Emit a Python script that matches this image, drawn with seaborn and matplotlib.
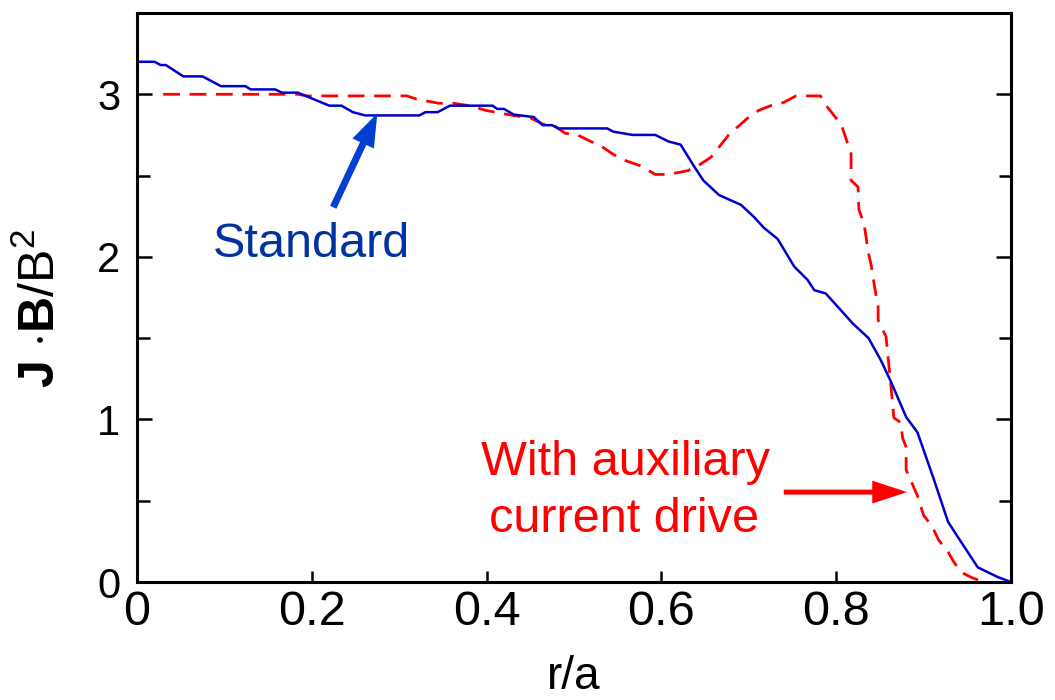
import matplotlib
matplotlib.use("Agg")
import matplotlib.pyplot as plt
from matplotlib.patches import ArrowStyle
from matplotlib.ticker import MultipleLocator, FixedLocator
import pandas as pd
import seaborn as sns

# ---- data ----
r_standard = [0.000, 0.020, 0.027, 0.033, 0.053, 0.075, 0.096, 0.124, 0.130, 0.158,
              0.166, 0.184, 0.220, 0.234, 0.247, 0.261, 0.323, 0.330, 0.344, 0.358,
              0.407, 0.412, 0.420, 0.431, 0.454, 0.464, 0.475, 0.482, 0.538, 0.545,
              0.567, 0.593, 0.608, 0.622, 0.637, 0.648, 0.666, 0.691, 0.706, 0.717,
              0.733, 0.752, 0.767, 0.775, 0.788, 0.809, 0.819, 0.837, 0.851, 0.862,
              0.880, 0.893, 0.912, 0.928, 0.940, 0.962, 0.985, 1.000]
j_standard = [3.20, 3.20, 3.18, 3.18, 3.11, 3.11, 3.05, 3.05, 3.03, 3.03,
              3.01, 3.01, 2.93, 2.93, 2.89, 2.87, 2.87, 2.89, 2.89, 2.93,
              2.93, 2.91, 2.91, 2.875, 2.86, 2.81, 2.81, 2.79, 2.79, 2.77,
              2.75, 2.75, 2.71, 2.69, 2.56, 2.47, 2.38, 2.32, 2.245, 2.18,
              2.11, 1.94, 1.86, 1.795, 1.775, 1.65, 1.59, 1.50, 1.365, 1.24,
              1.015, 0.92, 0.627, 0.37, 0.27, 0.09, 0.03, 0.00]

r_aux = [0.030, 0.184, 0.195, 0.309, 0.320, 0.345, 0.362, 0.380, 0.400, 0.430,
         0.450, 0.465, 0.475, 0.490, 0.504, 0.519, 0.530, 0.545, 0.560, 0.576,
         0.593, 0.608, 0.630, 0.641, 0.657, 0.677, 0.700, 0.711, 0.725, 0.740,
         0.754, 0.782, 0.790, 0.796, 0.806, 0.817, 0.817, 0.825, 0.826, 0.832,
         0.837, 0.840, 0.845, 0.848, 0.848, 0.857, 0.862, 0.866, 0.874, 0.876,
         0.880, 0.880, 0.893, 0.900, 0.910, 0.917, 0.928, 0.935, 0.943, 0.956,
         0.969]
j_aux = [3.00, 3.00, 2.99, 2.99, 2.97, 2.945, 2.945, 2.93, 2.90, 2.87,
         2.855, 2.815, 2.815, 2.76, 2.75, 2.71, 2.685, 2.63, 2.59, 2.56,
         2.507, 2.507, 2.53, 2.557, 2.614, 2.75, 2.86, 2.90, 2.93, 2.95,
         2.99, 2.99, 2.92, 2.88, 2.81, 2.635, 2.47, 2.43, 2.29, 2.20,
         2.02, 1.95, 1.78, 1.71, 1.61, 1.51, 1.24, 1.01, 0.98, 0.885,
         0.83, 0.69, 0.53, 0.41, 0.34, 0.26, 0.185, 0.12, 0.06, 0.025,
         0.0]

x_ticks = [0, 0.2, 0.4, 0.6, 0.8, 1.0]
x_ticklabels = ["0", "0.2", "0.4", "0.6", "0.8", "1.0"]
y_ticks = [0, 1, 2, 3]
y_ticklabels = ["0", "1", "2", "3"]

label_standard = "Standard"
label_aux_1 = "With auxiliary"
label_aux_2 = "current drive"

# ---- style ----
sns.set_style("ticks")
plt.rcParams["font.family"] = ["Liberation Sans", "DejaVu Sans"]
plt.rcParams["mathtext.fontset"] = "custom"
plt.rcParams["mathtext.rm"] = "Liberation Sans"
plt.rcParams["mathtext.bf"] = "Liberation Sans:bold"
plt.rcParams["mathtext.it"] = "Liberation Sans:italic"
plt.rcParams["text.color"] = "black"
plt.rcParams["axes.labelcolor"] = "black"

fig = plt.figure(figsize=(10.55, 7), dpi=100)
ax = fig.add_axes([137 / 1055, 118 / 700, 874 / 1055, 569 / 700])

df_std = pd.DataFrame({"r": r_standard, "j": j_standard})
df_aux = pd.DataFrame({"r": r_aux, "j": j_aux})

sns.lineplot(data=df_aux, x="r", y="j", estimator=None, sort=False,
             color="#ff0000", lw=2.0, linestyle=(0, (6.0, 3.5)), ax=ax)
sns.lineplot(data=df_std, x="r", y="j", estimator=None, sort=False,
             color="#0000cc", lw=1.8, ax=ax)

ax.set_xlim(0, 1.0)
ax.set_ylim(0, 3.5)

ax.xaxis.set_major_locator(FixedLocator(x_ticks))
ax.set_xticklabels(x_ticklabels)
ax.yaxis.set_major_locator(FixedLocator(y_ticks))
ax.set_yticklabels(y_ticklabels)
ax.yaxis.set_minor_locator(MultipleLocator(0.5))

for s in ax.spines.values():
    s.set_visible(True)
    s.set_linewidth(2.2)
    s.set_color("black")

ax.tick_params(axis="x", which="major", direction="in", length=8, width=1.8,
               top=False, bottom=True, labelsize=35, pad=6,
               color="black", labelcolor="black")
ax.tick_params(axis="y", which="major", direction="in", length=11, width=1.8,
               left=True, right=True, labelsize=30, pad=12,
               color="black", labelcolor="black")
ax.tick_params(axis="y", which="minor", direction="in", length=9, width=1.8,
               left=True, right=True, color="black")

ax.set_xlabel("r/a", fontsize=33, labelpad=14)
ax.set_ylabel(r"$\mathbf{J\ {\cdot}B}$/B$^{2}$", fontsize=36)
ax.yaxis.set_label_coords(-0.082, 0.48)

# annotations
ax.text(0.2, 2.0, label_standard, color="#0033a0", fontsize=35,
        ha="center", va="baseline")
ax.annotate("", xy=(0.275, 2.883), xytext=(0.2245, 2.305),
            arrowprops=dict(arrowstyle=ArrowStyle("simple", head_length=2.4,
                                                  head_width=1.7, tail_width=0.5),
                            mutation_scale=10, color="#0040d0", lw=0,
                            shrinkA=0, shrinkB=0))

ax.text(0.559, 0.658, label_aux_1, color="#ff0000", fontsize=35,
        ha="center", va="baseline")
ax.text(0.557, 0.307, label_aux_2, color="#ff0000", fontsize=35,
        ha="center", va="baseline")
ax.annotate("", xy=(0.881, 0.553), xytext=(0.74, 0.553),
            arrowprops=dict(arrowstyle=ArrowStyle("simple", head_length=2.5,
                                                  head_width=1.65, tail_width=0.36),
                            mutation_scale=10, color="#ff0000", lw=0,
                            shrinkA=0, shrinkB=0))

fig.savefig("out.png", dpi=100)
